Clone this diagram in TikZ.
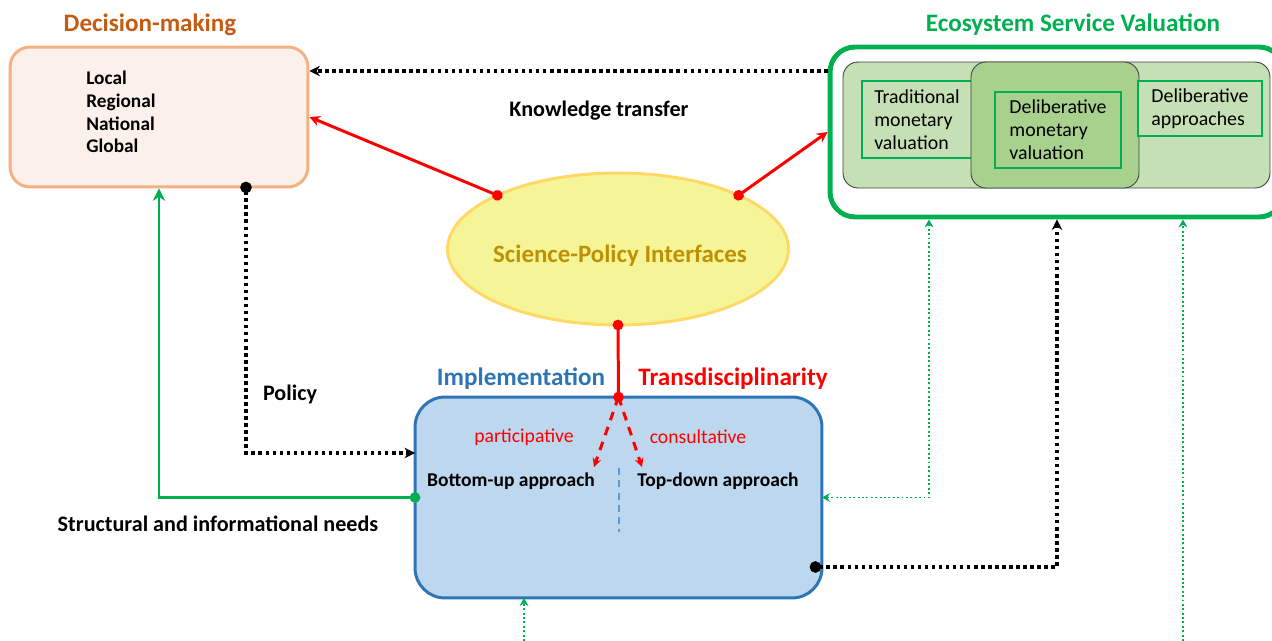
\documentclass[tikz,border=0pt]{standalone}
\usepackage{fontspec}
\setmainfont{Carlito}
\usetikzlibrary{arrows.meta,shapes.geometric}

\definecolor{dmorange}{HTML}{C55A11}
\definecolor{dmfill}{HTML}{FCF1EA}
\definecolor{dmdraw}{HTML}{F4B183}
\definecolor{esvgreen}{HTML}{00B050}
\definecolor{esvlight}{HTML}{C5E0B4}
\definecolor{esvmid}{HTML}{A9D18E}
\definecolor{spifill}{HTML}{F5F598}
\definecolor{spidraw}{HTML}{FFD966}
\definecolor{spitext}{HTML}{BF9000}
\definecolor{implfill}{HTML}{BDD7EE}
\definecolor{impldraw}{HTML}{2E75B6}
\definecolor{divblue}{HTML}{5B9BD5}

\begin{document}
\begin{tikzpicture}[x=0.02cm,y=-0.02cm]
        % Define styles
        \tikzset{
            title/.style={font=\fontsize{14.3}{16}\selectfont\bfseries},
            boldtext/.style={font=\fontsize{12.6}{14}\selectfont\bfseries},
            approach/.style={font=\fontsize{11.1}{13}\selectfont\bfseries},
            note/.style={font=\fontsize{11.2}{13}\selectfont, text=red},
            dmbox/.style={rectangle, rounded corners=0.4cm, draw=dmdraw, fill=dmfill, line width=1.7pt, minimum width=5.96cm, minimum height=2.8cm},
            esvouter/.style={rectangle, rounded corners=0.5cm, draw=esvgreen, fill=white, line width=2.8pt, minimum width=9.08cm, minimum height=3.4cm},
            esvpanel/.style={rectangle, rounded corners=0.3cm, draw=black!75, line width=0.5pt, minimum height=2.52cm},
            valbox/.style={rectangle, draw=esvgreen, line width=1.1pt, align=left, font=\fontsize{11.3}{13.1}\selectfont},
            spi/.style={ellipse, draw=spidraw, fill=spifill, line width=1.7pt, outer sep=0pt, minimum width=6.82cm, minimum height=3.04cm},
            implbox/.style={rectangle, rounded corners=0.6cm, draw=impldraw, fill=implfill, line width=1.7pt, outer sep=0pt, minimum width=8.14cm, minimum height=4.02cm},
            redarrow/.style={draw=red, line width=1.7pt, {Circle[length=6pt]}-{Stealth[length=6pt,width=6pt]}, shorten <=-3pt},
            reddash/.style={draw=red, line width=1.7pt, dash pattern=on 5pt off 4pt, -{Stealth[length=5pt,width=5pt]}},
            blackdot/.style={draw=black, line width=2pt, dash pattern=on 2pt off 2pt},
            greenline/.style={draw=esvgreen, line width=1.7pt},
            greendot/.style={draw=esvgreen, line width=1.1pt, dash pattern=on 1.1pt off 1.4pt},
            smalltip/.tip={Stealth[length=4.5pt,width=5pt]}
        }

        \useasboundingbox (0,0) rectangle (1272,641);

        % Nodes
        \node[dmbox] (dm_box) at (159,117) {};
        \node[anchor=west, align=left, inner sep=0pt, font=\fontsize{11}{13}\selectfont\bfseries] (dm_levels) at (86,112) {Local\\Regional\\National\\Global};
        \node[title, text=dmorange] (dm_title) at (150,25) {Decision-making};

        \node[esvouter] (esv_outer) at (1057,132) {};
        \node[esvpanel, fill=esvlight, minimum width=8.54cm] (esv_panel) at (1056.5,125) {};
        \node[valbox, fill=esvlight, minimum width=2.2cm, minimum height=1.54cm] (trad_val) at (917,119.5) {Traditional\\monetary\\valuation};
        \node[esvpanel, fill=esvmid, minimum width=3.36cm] (esv_mid) at (1055,125) {};
        \node[valbox, fill=esvmid, minimum width=2.52cm, minimum height=1.52cm] (delib_mon) at (1058,130) {Deliberative\\monetary\\valuation};
        \node[valbox, fill=esvlight, minimum width=2.48cm, minimum height=1.1cm] (delib_app) at (1200,108.5) {Deliberative\\approaches};
        \node[title, text=esvgreen] (esv_title) at (1073,25) {Ecosystem Service Valuation};

        \node[spi] (spi_ellipse) at (618,249) {};
        \node[text=spitext, font=\fontsize{14.2}{16}\selectfont\bfseries] (spi_label) at (620,256) {Science-Policy Interfaces};
        \node[boldtext] (kt_label) at (599,111) {Knowledge transfer};

        \node[implbox] (impl_box) at (618.5,497.5) {};
        \node[title, text=impldraw] (impl_title) at (521,379) {Implementation};
        \node[title, text=red] (trans_title) at (733,379) {Transdisciplinarity};
        \node[note] (part_label) at (524,437) {participative};
        \node[note] (cons_label) at (698,437) {consultative};
        \node[approach] (bottom_up) at (511,481) {Bottom-up approach};
        \node[approach] (top_down) at (718,481) {Top-down approach};

        \node[boldtext] (policy_label) at (290,394) {Policy};
        \node[boldtext] (needs_label) at (218,524) {Structural and informational needs};

        % Free ends
        \coordinate (kt_level) at (0,71);
        \coordinate (bu_tip) at (594,467);
        \coordinate (td_tip) at (642,467);
        \coordinate (div_top) at (619,468);
        \coordinate (div_bottom) at (619,532);
        \coordinate (policy_start) at (246,187);
        \coordinate (policy_level) at (0,453);
        \coordinate (impl_out) at (815,567);
        \coordinate (esv_feed) at (929,0);
        \coordinate (esv_base) at (1183,641);
        \coordinate (impl_base) at (524,641);

        % Arrows
        \draw[blackdot, -{Stealth[length=6pt,width=6pt]}] (esv_outer.west |- kt_level) -- (dm_box.east |- kt_level);
        \draw[redarrow] (spi_ellipse.156) -- (dm_box.east);
        \draw[redarrow] (spi_ellipse.24) -- (esv_outer.west);
        \draw[draw=red, line width=1.7pt, {Circle[length=6pt]}-{Circle[length=6pt]}, shorten <=-3pt, shorten >=-3pt] (spi_ellipse.south) -- (impl_box.north);
        \draw[reddash] (impl_box.north) -- (bu_tip);
        \draw[reddash] (impl_box.north) -- (td_tip);
        \draw[divblue, line width=0.8pt, dash pattern=on 4pt off 3pt] (div_top) -- (div_bottom);

        \draw[blackdot, {Circle[length=6.5pt]}-{Stealth[length=6pt,width=6pt]}, shorten <=-3pt] (policy_start) |- (impl_box.west |- policy_level);
        \draw[greenline, {Circle[length=6pt]}-{Stealth[length=7pt,width=7pt]}, shorten <=-3pt] (impl_box.west) -| (dm_box.south);

        \draw[greendot, smalltip-smalltip] (esv_outer.south -| esv_feed) |- (impl_box.east);
        \draw[greendot, -smalltip] (esv_base) -- (esv_outer.south -| esv_base);
        \draw[greendot, -smalltip] (impl_base) -- (impl_box.south -| impl_base);
        \draw[blackdot, {Circle[length=6.5pt]}-{Stealth[length=6pt,width=6pt]}, shorten <=-3pt] (impl_out) -| (esv_outer.south);
    \end{tikzpicture}
\end{document}
